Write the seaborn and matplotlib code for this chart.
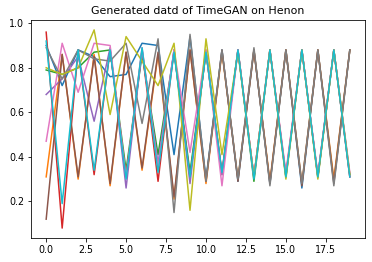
import numpy as np
import pandas as pd
import seaborn as sns
import matplotlib
matplotlib.use('Agg')
import matplotlib.pyplot as plt

# generated sequences (one feature of the Henon map), 20 time steps each
steps = list(range(20))
blue = [0.90, 0.72, 0.88, 0.85, 0.76, 0.77, 0.91, 0.90, 0.41, 0.94, 0.30, 0.88, 0.29, 0.88, 0.28, 0.88, 0.26, 0.88, 0.29, 0.88]
orange = [0.31, 0.86, 0.30, 0.86, 0.27, 0.87, 0.34, 0.86, 0.21, 0.88, 0.28, 0.87, 0.30, 0.88, 0.29, 0.88, 0.28, 0.88, 0.30, 0.88]
green = [0.79, 0.77, 0.80, 0.87, 0.88, 0.34, 0.86, 0.41, 0.87, 0.33, 0.87, 0.32, 0.88, 0.29, 0.88, 0.31, 0.88, 0.31, 0.88, 0.32]
red = [0.96, 0.08, 0.88, 0.32, 0.88, 0.31, 0.88, 0.29, 0.88, 0.31, 0.87, 0.33, 0.88, 0.31, 0.88, 0.32, 0.88, 0.31, 0.88, 0.31]
purple = [0.68, 0.75, 0.85, 0.56, 0.89, 0.26, 0.88, 0.37, 0.88, 0.28, 0.88, 0.32, 0.88, 0.31, 0.88, 0.31, 0.88, 0.31, 0.88, 0.31]
brown = [0.12, 0.86, 0.31, 0.85, 0.28, 0.87, 0.35, 0.87, 0.22, 0.88, 0.29, 0.88, 0.29, 0.88, 0.28, 0.88, 0.27, 0.88, 0.28, 0.88]
pink = [0.47, 0.91, 0.69, 0.91, 0.90, 0.31, 0.89, 0.35, 0.88, 0.42, 0.88, 0.27, 0.88, 0.31, 0.88, 0.33, 0.88, 0.32, 0.88, 0.33]
gray = [0.89, 0.75, 0.88, 0.84, 0.83, 0.91, 0.55, 0.93, 0.15, 0.95, 0.29, 0.88, 0.30, 0.89, 0.27, 0.88, 0.28, 0.88, 0.27, 0.88]
olive = [0.80, 0.77, 0.80, 0.97, 0.59, 0.94, 0.83, 0.72, 0.91, 0.16, 0.93, 0.41, 0.87, 0.31, 0.88, 0.30, 0.88, 0.30, 0.88, 0.32]
cyan = [0.92, 0.19, 0.88, 0.34, 0.88, 0.30, 0.89, 0.33, 0.87, 0.31, 0.87, 0.33, 0.88, 0.30, 0.88, 0.31, 0.88, 0.31, 0.88, 0.31]

series = [blue, orange, green, red, purple, brown, pink, gray, olive, cyan]

#long format table for seaborn
rows = []
for i, s in enumerate(series):
    for t, v in zip(steps, s):
        rows.append({'step': t, 'value': v, 'sample': i})
df = pd.DataFrame(rows)

fig = plt.figure(figsize=(372/72, 262/72), dpi=72)
ax = fig.add_axes([31/372, 1-238/262, (365-31)/372, (238-20)/262])
sns.lineplot(data=df, x='step', y='value', hue='sample', palette='tab10',
             legend=False, linewidth=1.5, ax=ax)
ax.set_xlabel('')
ax.set_ylabel('')
ax.set_title('Generated datd of TimeGAN on Henon', fontsize=11)
ax.set_xticks([0, 2.5, 5, 7.5, 10, 12.5, 15, 17.5])
ax.set_xticklabels(['0.0', '2.5', '5.0', '7.5', '10.0', '12.5', '15.0', '17.5'])
ax.tick_params(labelsize=9.5)

plt.savefig('out.png', dpi=72)
